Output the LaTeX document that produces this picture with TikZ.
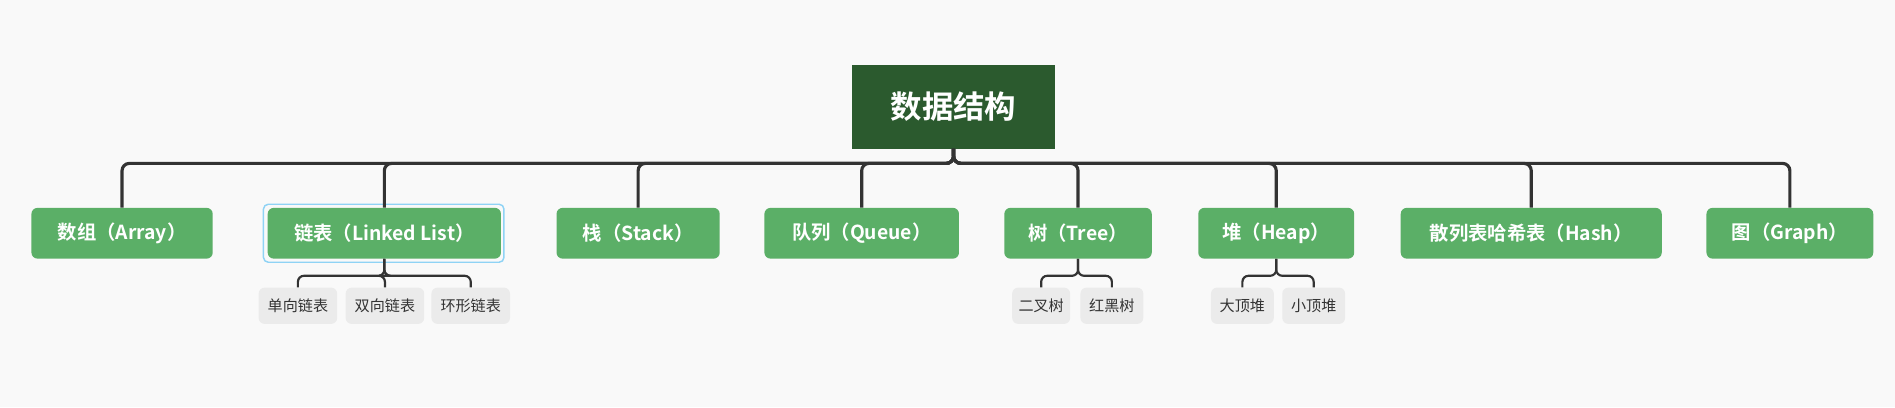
\documentclass[tikz,border=0pt]{standalone}
\usepackage{fontspec}
\newfontfamily\cjk{Noto Sans CJK SC}
\newfontfamily\cjkb{Noto Sans CJK SC Bold}
\definecolor{bg}{HTML}{F9F9F9}
\definecolor{rootc}{HTML}{2B5A2E}
\definecolor{gr}{HTML}{5BAF67}
\definecolor{sub}{HTML}{EBEBEB}
\definecolor{ln}{HTML}{333333}
\definecolor{sel}{HTML}{8FD3F5}
\begin{document}
\begin{tikzpicture}[x=1pt,y=-1pt,
 main/.style={fill=gr,rounded corners=5pt,text=white,font=\cjkb\fontsize{16}{18}\selectfont,minimum height=42pt,inner sep=0pt},
 leaf/.style={fill=sub,rounded corners=5pt,text=black!80,font=\cjk\fontsize{12.5}{14}\selectfont,minimum height=30pt,inner sep=0pt},
 conn/.style={draw=ln,line width=2.6pt,rounded corners=6pt},
 sconn/.style={draw=ln,line width=1.8pt,rounded corners=5pt}]
\fill[bg] (0,0) rectangle (1568,337);
\node[fill=rootc,text=white,font=\cjkb\fontsize{26}{30}\selectfont,minimum width=168pt,minimum height=69pt] (root) at (789,88.5) {数据结构};
\node[main,minimum width=150pt] (a) at (101,193) {数组（Array）};
\node[main,minimum width=193pt] (l) at (318,193) {链表（Linked List）};
\draw[sel,line width=1.2pt,rounded corners=4pt] (218,169) rectangle (417,217);
\node[main,minimum width=135pt] (s) at (528,193) {栈（Stack）};
\node[main,minimum width=161pt] (q) at (713,193) {队列（Queue）};
\node[main,minimum width=122pt] (t) at (892,193) {树（Tree）};
\node[main,minimum width=129pt] (h) at (1056,193) {堆（Heap）};
\node[main,minimum width=216pt] (hs) at (1267,193) {散列表哈希表（Hash）};
\node[main,minimum width=138pt] (g) at (1481,193) {图（Graph）};
\foreach \n in {a,l,s,q,t,h,hs,g}{\draw[conn] (root.south) -- ++(0,12) -| (\n.north);}
\node[leaf,minimum width=65pt] (l1) at (246.5,253) {单向链表};
\node[leaf,minimum width=65pt] (l2) at (318.5,253) {双向链表};
\node[leaf,minimum width=65pt] (l3) at (389.5,253) {环形链表};
\node[leaf,minimum width=48pt] (t1) at (861.5,253) {二叉树};
\node[leaf,minimum width=52pt] (t2) at (920,253) {红黑树};
\node[leaf,minimum width=52pt] (h1) at (1028,253) {大顶堆};
\node[leaf,minimum width=52pt] (h2) at (1087,253) {小顶堆};
\foreach \p/\c in {l/l1,l/l2,l/l3,t/t1,t/t2,h/h1,h/h2}{\draw[sconn] (\p.south) -- ++(0,14) -| (\c.north);}
\end{tikzpicture}
\end{document}
